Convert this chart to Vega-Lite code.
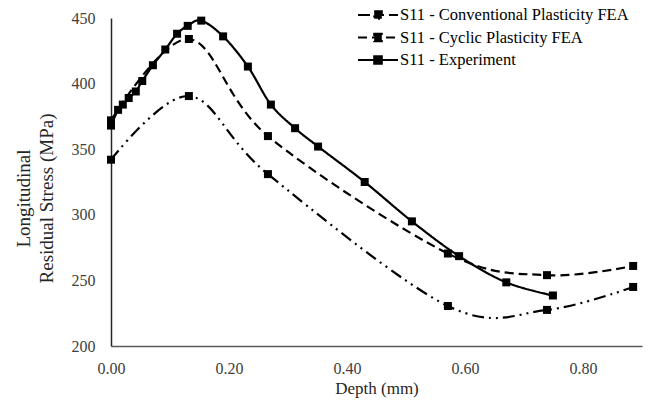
{
  "$schema": "https://vega.github.io/schema/vega-lite/v6.json",
  "width": 531,
  "height": 328,
  "autosize": {"type": "none"},
  "padding": {"left": 111, "top": 18, "right": 19, "bottom": 56},
  "background": "white",
  "config": {
    "view": {"stroke": null},
    "font": "Liberation Serif, serif"
  },
  "data": {
    "values": [
      {"series": "S11 - Conventional Plasticity FEA", "depth": 0.0, "stress": 342},
      {"series": "S11 - Conventional Plasticity FEA", "depth": 0.132, "stress": 390.5},
      {"series": "S11 - Conventional Plasticity FEA", "depth": 0.266, "stress": 331},
      {"series": "S11 - Conventional Plasticity FEA", "depth": 0.571, "stress": 230.5},
      {"series": "S11 - Conventional Plasticity FEA", "depth": 0.739, "stress": 227.5},
      {"series": "S11 - Conventional Plasticity FEA", "depth": 0.885, "stress": 245},
      {"series": "S11 - Cyclic Plasticity FEA", "depth": 0.0, "stress": 372},
      {"series": "S11 - Cyclic Plasticity FEA", "depth": 0.132, "stress": 434},
      {"series": "S11 - Cyclic Plasticity FEA", "depth": 0.266, "stress": 360},
      {"series": "S11 - Cyclic Plasticity FEA", "depth": 0.571, "stress": 270.5},
      {"series": "S11 - Cyclic Plasticity FEA", "depth": 0.739, "stress": 254},
      {"series": "S11 - Cyclic Plasticity FEA", "depth": 0.885, "stress": 261},
      {"series": "S11 - Experiment", "depth": 0.0, "stress": 368},
      {"series": "S11 - Experiment", "depth": 0.012, "stress": 380},
      {"series": "S11 - Experiment", "depth": 0.02, "stress": 384},
      {"series": "S11 - Experiment", "depth": 0.03, "stress": 389},
      {"series": "S11 - Experiment", "depth": 0.042, "stress": 394},
      {"series": "S11 - Experiment", "depth": 0.053, "stress": 402},
      {"series": "S11 - Experiment", "depth": 0.071, "stress": 414},
      {"series": "S11 - Experiment", "depth": 0.092, "stress": 426},
      {"series": "S11 - Experiment", "depth": 0.112, "stress": 438},
      {"series": "S11 - Experiment", "depth": 0.13, "stress": 444},
      {"series": "S11 - Experiment", "depth": 0.153, "stress": 448},
      {"series": "S11 - Experiment", "depth": 0.19, "stress": 436},
      {"series": "S11 - Experiment", "depth": 0.232, "stress": 413},
      {"series": "S11 - Experiment", "depth": 0.271, "stress": 384},
      {"series": "S11 - Experiment", "depth": 0.312, "stress": 366},
      {"series": "S11 - Experiment", "depth": 0.351, "stress": 352},
      {"series": "S11 - Experiment", "depth": 0.43, "stress": 325},
      {"series": "S11 - Experiment", "depth": 0.51, "stress": 295},
      {"series": "S11 - Experiment", "depth": 0.59, "stress": 268.5},
      {"series": "S11 - Experiment", "depth": 0.67, "stress": 248.5},
      {"series": "S11 - Experiment", "depth": 0.749, "stress": 238.5}
    ]
  },
  "encoding": {
    "x": {
      "field": "depth", "type": "quantitative",
      "scale": {"domain": [0, 0.9], "nice": false, "zero": false},
      "axis": {
        "title": "Depth (mm)", "values": [0, 0.2, 0.4, 0.6, 0.8], "format": ".2f",
        "grid": false, "ticks": false, "domainColor": "#595959", "domainWidth": 1.5,
        "labelFlush": false,
        "labelFont": "Liberation Serif, serif", "labelFontSize": 16, "labelColor": "#404040",
        "labelPadding": 14, "titleFont": "Liberation Serif, serif", "titleFontSize": 17,
        "titleFontWeight": "normal", "titleColor": "#262626", "titlePadding": 4
      }
    },
    "y": {
      "field": "stress", "type": "quantitative",
      "scale": {"domain": [200, 450], "nice": false, "zero": false},
      "axis": {
        "title": ["Longitudinal", "Residual Stress (MPa)"], "values": [200, 250, 300, 350, 400, 450],
        "grid": false, "ticks": false, "domainColor": "#262626", "domainWidth": 1.5,
        "labelFlush": false,
        "labelFont": "Liberation Serif, serif", "labelFontSize": 16, "labelColor": "#404040",
        "labelPadding": 16, "titleFont": "Liberation Serif, serif", "titleFontSize": 19,
        "titleFontWeight": "normal", "titleColor": "#262626", "titlePadding": 15,
        "titleLineHeight": 23, "titleY": 180
      }
    }
  },
  "layer": [
    {
      "mark": {"type": "line", "interpolate": "cardinal", "tension": 0, "strokeWidth": 2.2, "color": "black"},
      "encoding": {
        "detail": {"field": "series"},
        "strokeDash": {
          "field": "series", "type": "nominal",
          "scale": {
            "domain": ["S11 - Conventional Plasticity FEA", "S11 - Cyclic Plasticity FEA", "S11 - Experiment"],
            "range": [[12, 5, 2, 5, 2, 5], [9, 5], [1, 0]]
          },
          "legend": {
            "title": null, "orient": "none", "legendX": 256, "legendY": -14,
            "labelFont": "Liberation Serif, serif", "labelFontSize": 16.5, "labelColor": "black",
            "labelLimit": 400,
            "symbolType": "M-2,0L2,0M-0.38,-0.38L0.38,-0.38L0.38,0.38L-0.38,0.38Z",
            "symbolSize": 400, "symbolStrokeWidth": 2, "symbolStrokeColor": "black",
            "symbolFillColor": "black", "rowPadding": 2.5, "labelOffset": 11,
            "encode": {"symbols": {"update": {
              "fill": {"value": "black"},
              "stroke": {"value": "black"},
              "strokeWidth": {"value": 2},
              "strokeDash": {"scale": "strokeDash", "field": "value"}
            }}}
          }
        }
      }
    },
    {
      "mark": {"type": "point", "shape": "square", "filled": true, "size": 64, "color": "black", "opacity": 1},
      "encoding": {"detail": {"field": "series"}}
    }
  ]
}
